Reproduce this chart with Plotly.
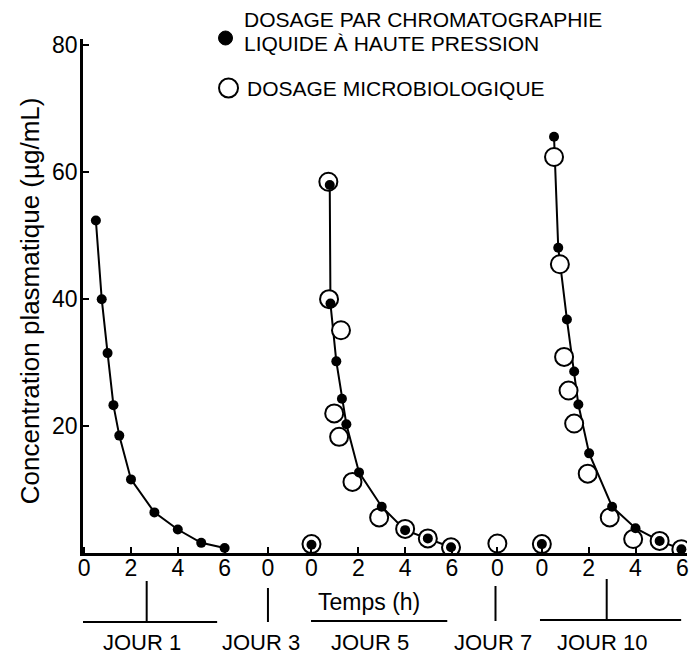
import plotly.graph_objects as go

# ---------------- data ----------------
# time after dose (h) and plasma concentration (µg/mL)
day1_t_hplc = [0.5, 0.75, 1.0, 1.25, 1.5, 2.0, 3.0, 4.0, 5.0, 6.0]
day1_c_hplc = [52.4, 40.0, 31.5, 23.3, 18.5, 11.6, 6.4, 3.7, 1.6, 0.8]

day5_t_hplc = [0.78, 0.81, 1.06, 1.3, 1.49, 2.03, 3.0, 4.0, 4.97, 5.96]
day5_c_hplc = [58.0, 39.3, 30.2, 24.3, 20.3, 12.7, 7.3, 3.6, 2.3, 0.9]
day5_t_micro = [0.72, 0.75, 1.26, 0.97, 1.18, 1.75, 2.89, 4.0, 4.97, 5.96]
day5_c_micro = [58.5, 40.0, 35.1, 22.0, 18.3, 11.2, 5.6, 3.8, 2.3, 0.9]

day10_t_hplc = [0.52, 0.7, 1.07, 1.38, 1.56, 2.02, 3.0, 4.0, 5.03, 5.96]
day10_c_hplc = [65.6, 48.1, 36.8, 28.6, 23.4, 15.7, 7.3, 3.9, 1.9, 0.6]
day10_t_micro = [0.52, 0.77, 0.95, 1.14, 1.38, 1.96, 2.9, 3.9, 5.03, 5.96]
day10_c_micro = [62.4, 45.5, 30.9, 25.6, 20.4, 12.5, 5.6, 2.2, 1.9, 0.6]

# pre-dose (trough) samples at time 0
predose_days = ["JOUR 5", "JOUR 7", "JOUR 10"]
predose_hplc = [1.3, None, 1.4]
predose_micro = [1.4, 1.5, 1.4]

days = ["JOUR 1", "JOUR 3", "JOUR 5", "JOUR 7", "JOUR 10"]
day_ticks = [[0, 2, 4, 6], [0], [0, 2, 4, 6], [0], [0, 2, 4, 6]]
y_ticks = [20, 40, 60, 80]

legend_hplc = ["DOSAGE PAR CHROMATOGRAPHIE", "LIQUIDE À HAUTE PRESSION"]
legend_micro = "DOSAGE MICROBIOLOGIQUE"
x_title = "Temps (h)"
y_title = "Concentration plasmatique (µg/mL)"

# ---------------- layout geometry ----------------
offsets = {"JOUR 1": 0.0, "JOUR 3": 7.85, "JOUR 5": 9.71, "JOUR 7": 17.65, "JOUR 10": 19.55}
W, H = 692, 656
ML, MR, MT, MB = 83, 3, 39, 103
PW, PH = W - ML - MR, H - MT - MB
FONT = "Liberation Sans, Arial, Helvetica, sans-serif"


def px(xp):
    return (xp - ML) / PW


def py(yp):
    return (H - MB - yp) / PH


def shift(ts, day):
    return [offsets[day] + t for t in ts]


fig = go.Figure()

hplc_sets = [(day1_t_hplc, day1_c_hplc, "JOUR 1"),
             (day5_t_hplc, day5_c_hplc, "JOUR 5"),
             (day10_t_hplc, day10_c_hplc, "JOUR 10")]
micro_sets = [(day5_t_micro, day5_c_micro, "JOUR 5"),
              (day10_t_micro, day10_c_micro, "JOUR 10")]

# connecting lines (HPLC)
for ts, cs, d in hplc_sets:
    fig.add_trace(go.Scatter(x=shift(ts, d), y=cs, mode="lines",
                             line=dict(color="black", width=2), showlegend=False,
                             hoverinfo="skip"))

# microbiological assay: open circles
mx, my = [], []
for ts, cs, d in micro_sets:
    mx += shift(ts, d)
    my += cs
for d, v in zip(predose_days, predose_micro):
    if v is not None:
        mx.append(offsets[d])
        my.append(v)
fig.add_trace(go.Scatter(x=mx, y=my, mode="markers", showlegend=False,
                         marker=dict(size=18, color="white", symbol="circle",
                                     line=dict(color="black", width=2))))

# HPLC assay: filled dots
hx, hy = [], []
for ts, cs, d in hplc_sets:
    hx += shift(ts, d)
    hy += cs
for d, v in zip(predose_days, predose_hplc):
    if v is not None:
        hx.append(offsets[d])
        hy.append(v)
fig.add_trace(go.Scatter(x=hx, y=hy, mode="markers", showlegend=False,
                         marker=dict(size=10, color="black", line=dict(width=0))))

# x ticks
tickvals, ticktext = [], []
for d, tks in zip(days, day_ticks):
    for t in tks:
        tickvals.append(offsets[d] + t)
        ticktext.append(str(t))

fig.update_xaxes(range=[-0.05, 25.75], tickvals=tickvals, ticktext=ticktext,
                 ticks="inside", ticklen=6, tickwidth=1.5, tickcolor="black",
                 showline=True, linecolor="black", linewidth=2.5,
                 showgrid=False, zeroline=False, ticklabelstandoff=-7,
                 ticklabeloverflow="allow",
                 tickfont=dict(family=FONT, size=23, color="black"))
fig.update_yaxes(range=[0, 81], tickvals=y_ticks, ticks="inside", ticklen=6,
                 tickwidth=1.5, tickcolor="black",
                 showline=True, linecolor="black", linewidth=2.5,
                 showgrid=False, zeroline=False, ticklabelstandoff=-2,
                 tickfont=dict(family=FONT, size=23, color="black"))

shapes = []
ann = []
# day brackets below the axis
bracket_y = 622
o = offsets["JOUR 1"]
shapes.append(dict(type="line", xref="x", yref="paper", x0=o - 0.09, x1=o + 5.68,
                   y0=py(bracket_y), y1=py(bracket_y)))
shapes.append(dict(type="line", xref="x", yref="paper", x0=o + 2.67, x1=o + 2.67,
                   y0=py(581), y1=py(bracket_y)))
o = offsets["JOUR 3"]
shapes.append(dict(type="line", xref="x", yref="paper", x0=o, x1=o,
                   y0=py(588), y1=py(bracket_y)))
o = offsets["JOUR 5"]
shapes.append(dict(type="line", xref="x", yref="paper", x0=o - 0.02, x1=o + 5.8,
                   y0=py(621), y1=py(621)))
o = offsets["JOUR 7"]
shapes.append(dict(type="line", xref="x", yref="paper", x0=o - 0.08, x1=o - 0.08,
                   y0=py(586), y1=py(621)))
o = offsets["JOUR 10"]
shapes.append(dict(type="line", xref="x", yref="paper", x0=o - 0.08, x1=o + 5.95,
                   y0=py(620), y1=py(620)))
shapes.append(dict(type="line", xref="x", yref="paper", x0=o + 2.77, x1=o + 2.77,
                   y0=py(579), y1=py(620)))
for s in shapes:
    s["line"] = dict(color="black", width=2)

# day labels
label_x = {"JOUR 1": 142, "JOUR 3": 262, "JOUR 5": 371, "JOUR 7": 494, "JOUR 10": 604}
for d in days:
    ann.append(dict(text=d, xref="paper", yref="paper", x=px(label_x[d]), y=py(642),
                    xanchor="center", yanchor="middle", showarrow=False,
                    font=dict(family=FONT, size=22, color="black")))

# axis titles
ann.append(dict(text=x_title, xref="paper", yref="paper", x=px(370), y=py(602),
                xanchor="center", yanchor="middle", showarrow=False,
                font=dict(family=FONT, size=23, color="black")))
ann.append(dict(text=y_title, xref="paper", yref="paper", x=px(30), y=py(301),
                xanchor="center", yanchor="middle", showarrow=False, textangle=-90,
                font=dict(family=FONT, size=26, color="black")))

# legend
shapes.append(dict(type="circle", xref="paper", yref="paper", xsizemode="pixel",
                   ysizemode="pixel", xanchor=px(226), yanchor=py(38),
                   x0=-7, x1=7, y0=-7, y1=7, fillcolor="black",
                   line=dict(color="black", width=1)))
shapes.append(dict(type="circle", xref="paper", yref="paper", xsizemode="pixel",
                   ysizemode="pixel", xanchor=px(229), yanchor=py(88),
                   x0=-9.5, x1=9.5, y0=-9.5, y1=9.5, fillcolor="white",
                   line=dict(color="black", width=2)))
ann.append(dict(text=legend_hplc[0], xref="paper", yref="paper", x=px(243), y=py(20),
                xanchor="left", yanchor="middle", showarrow=False,
                font=dict(family=FONT, size=21, color="black")))
ann.append(dict(text=legend_hplc[1], xref="paper", yref="paper", x=px(243), y=py(44),
                xanchor="left", yanchor="middle", showarrow=False,
                font=dict(family=FONT, size=21, color="black")))
ann.append(dict(text=legend_micro, xref="paper", yref="paper", x=px(246), y=py(88),
                xanchor="left", yanchor="middle", showarrow=False,
                font=dict(family=FONT, size=21, color="black")))

fig.update_layout(width=W, height=H, margin=dict(l=ML, r=MR, t=MT, b=MB),
                  plot_bgcolor="white", paper_bgcolor="white",
                  shapes=shapes, annotations=ann, showlegend=False,
                  font=dict(family=FONT, color="black"))

fig.write_html("out.html", config={"displayModeBar": False},
               post_script="document.body.style.margin='0px';")
